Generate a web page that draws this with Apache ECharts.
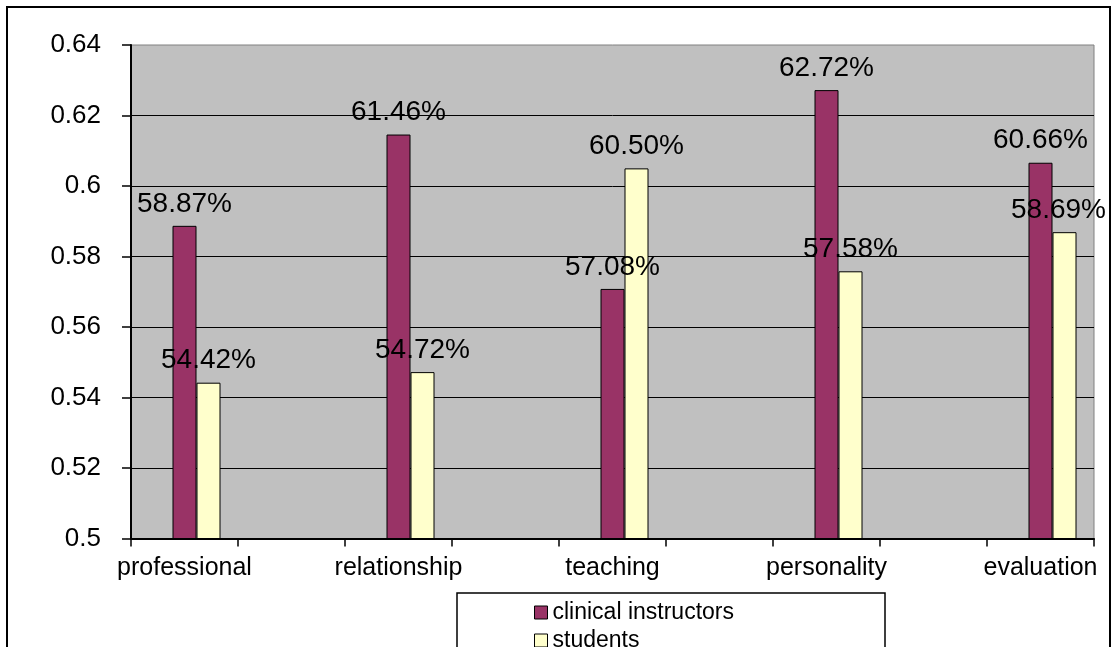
<!DOCTYPE html>
<html><head><meta charset="utf-8">
<script src="https://cdn.jsdelivr.net/npm/echarts@6/dist/echarts.min.js"></script>
<style>html,body{margin:0;padding:0;background:#fff}#c{width:1114px;height:647px}</style>
</head><body><div id="c"></div>
<script>
const categories = ['professional', 'relationship', 'teaching', 'personality', 'evaluation'];
const instructors = [0.5887, 0.6146, 0.5708, 0.6272, 0.6066];
const students = [0.5442, 0.5472, 0.6050, 0.5758, 0.5869];
const yMin = 0.5, yMax = 0.64, yStep = 0.02;
const seriesNames = ['clinical instructors', 'students'];

// The original chart has an empty slot between consecutive categories
function spread(arr, blank) {
  const out = [];
  arr.forEach((v, i) => { if (i > 0) out.push(blank); out.push(v); });
  return out;
}
const xSlots = spread(categories, '');
const instrSlots = spread(instructors, '-');
const studSlots = spread(students, '-');
const emptySlots = xSlots.map(() => '-');

const FONT = '"Liberation Sans", Arial, sans-serif';
const pct = p => (p.value * 100).toFixed(2) + '%';

const chart = echarts.init(document.getElementById('c'));
chart.setOption({
  animation: false,
  backgroundColor: '#ffffff',
  textStyle: { fontFamily: FONT, color: '#000' },
  graphic: [
    { type: 'rect', z: -10, shape: { x: 7, y: 7, width: 1103, height: 700 },
      style: { fill: 'none', stroke: '#000', lineWidth: 2 } },
    { type: 'rect', z: -10, shape: { x: 457, y: 593, width: 428, height: 100 },
      style: { fill: '#fff', stroke: '#000', lineWidth: 1.5 } }
  ],
  grid: {
    left: 131, right: 20, top: 45, bottom: 108.5,
    show: true, backgroundColor: '#C0C0C0', borderColor: '#808080', borderWidth: 1
  },
  legend: {
    data: seriesNames, orient: 'vertical', left: 534, top: 601, height: 200, padding: 0, itemGap: 5,
    itemWidth: 13, itemHeight: 13, icon: 'rect',
    itemStyle: { borderColor: '#000', borderWidth: 1 },
    textStyle: { fontFamily: FONT, fontSize: 23, lineHeight: 20, color: '#000' }
  },
  xAxis: {
    type: 'category', data: xSlots, boundaryGap: true,
    axisLine: { lineStyle: { color: '#000', width: 2 } },
    axisTick: { show: true, interval: 0, length: 8, alignWithLabel: false, lineStyle: { color: '#000', width: 1.5 } },
    axisLabel: { interval: 0, margin: 17, fontFamily: FONT, fontSize: 25, color: '#000' },
    splitLine: { show: false }
  },
  yAxis: {
    type: 'value', min: yMin, max: yMax, interval: yStep,
    axisLine: { show: true, lineStyle: { color: '#000', width: 2 } },
    axisTick: { show: true, length: 9, lineStyle: { color: '#000', width: 1.5 } },
    axisLabel: { margin: 30, fontFamily: FONT, fontSize: 26, color: '#000' },
    splitLine: { show: true, showMaxLine: false, lineStyle: { color: '#000', width: 1 } }
  },
  series: [
    { name: '', type: 'bar', data: emptySlots, barWidth: 24, barGap: '0%', silent: true },
    { name: seriesNames[0], type: 'bar', data: instrSlots, barWidth: 24, barGap: '0%',
      itemStyle: { color: '#993366', borderColor: '#000', borderWidth: 1 },
      label: { show: true, position: 'top', distance: 8, formatter: pct, fontFamily: FONT, fontSize: 28, color: '#000' } },
    { name: seriesNames[1], type: 'bar', data: studSlots, barWidth: 24, barGap: '0%',
      itemStyle: { color: '#FFFFCC', borderColor: '#000', borderWidth: 1 },
      label: { show: true, position: 'top', distance: 8, formatter: pct, fontFamily: FONT, fontSize: 28, color: '#000' } }
  ],
  labelLayout: function (params) {
    const r = params.labelRect;
    const maxRight = 1106;
    if (r.x + r.width > maxRight) return { dx: maxRight - (r.x + r.width) };
    return {};
  }
});
</script></body></html>
